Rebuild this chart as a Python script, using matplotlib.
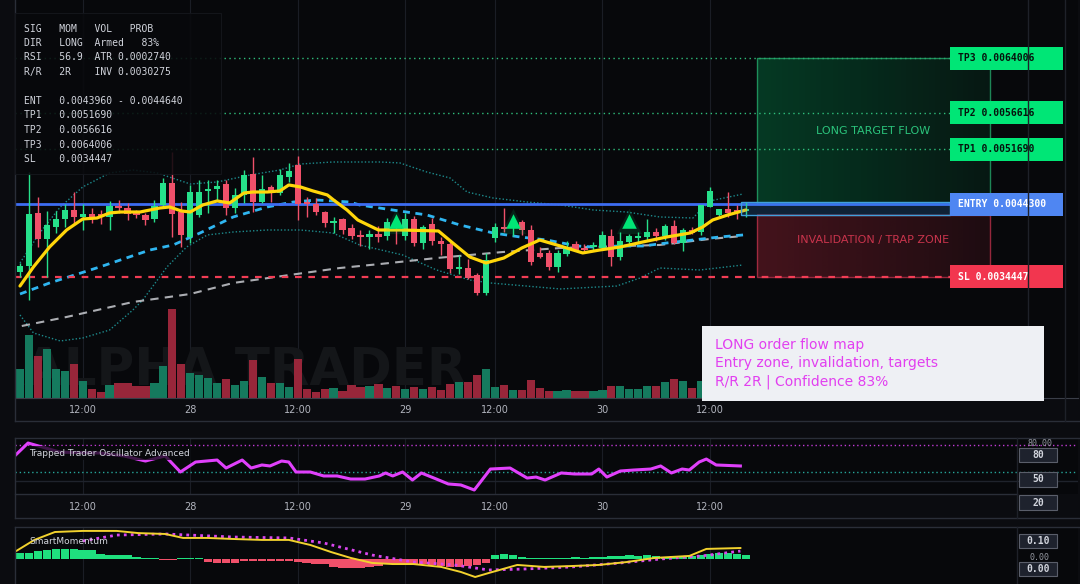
import numpy as np
import matplotlib.pyplot as plt
from matplotlib.patches import Rectangle
from matplotlib.lines import Line2D

# ---------------- data (prices in units of 1e-6) ----------------
E6 = 1e-6
opens = [3512, 3593, 4309, 3958, 4120, 4228, 4349, 4255, 4295, 4295,
         4255, 4390, 4376, 4309, 4282, 4228, 4417, 4714, 4322, 3985,
         4282, 4606, 4633, 4700, 4376, 4552, 4835, 4457, 4660, 4579,
         4795, 4957, 4444, 4430, 4322, 4174, 4228, 4106, 3998, 3985,
         4025, 3998, 4093, 3998, 4228, 3904, 4160, 3931, 3890, 3559,
         3566, 3472, 3229, 3971, 4120, 4106, 4187, 4079, 3769, 3769,
         3580, 3755, 3890, 3823, 3850, 3836, 3998, 3715, 3917, 3971,
         3985, 4052, 3998, 4133, 3904, 4079, 4052, 4390, 4282, 4363,
         4349, 4336]
highs = [3634, 4862, 4525, 4336, 4336, 4430, 4592, 4430, 4376, 4349,
         4471, 4484, 4444, 4349, 4309, 4484, 4781, 5132, 4457, 4687,
         4754, 4754, 4754, 4754, 4646, 4889, 5065, 4822, 4687, 4903,
         4984, 5078, 4525, 4511, 4336, 4255, 4241, 4160, 4079, 4079,
         4133, 4241, 4133, 4309, 4268, 4147, 4241, 3985, 3917, 3742,
         3688, 3499, 3769, 4174, 4376, 4187, 4214, 4147, 3850, 3809,
         3809, 3931, 3931, 3890, 3917, 4066, 4093, 4052, 4025, 4052,
         4228, 4106, 4160, 4214, 4106, 4120, 4417, 4660, 4363, 4592,
         4417, 4457]
lows = [3445, 3134, 3850, 3445, 4039, 4120, 4174, 4079, 4174, 4160,
        4079, 4309, 4214, 4241, 4147, 4187, 4390, 3985, 3850, 3904,
        4255, 4309, 4484, 4282, 4309, 4444, 4322, 4444, 4457, 4552,
        4727, 4214, 4255, 4282, 4120, 4039, 4025, 3958, 3863, 3823,
        3917, 3944, 3890, 3944, 3863, 3823, 3877, 3742, 3499, 3485,
        3418, 3202, 3202, 3917, 4052, 3998, 4012, 3607, 3701, 3539,
        3512, 3728, 3796, 3769, 3809, 3809, 3593, 3674, 3863, 3917,
        3944, 3931, 3944, 3890, 3796, 4025, 4012, 4390, 4268, 4255,
        4228, 4255]
closes = [3593, 4295, 3958, 4147, 4228, 4349, 4255, 4295, 4255, 4268,
          4403, 4376, 4295, 4282, 4214, 4403, 4714, 4295, 4012, 4592,
          4592, 4633, 4673, 4376, 4552, 4822, 4457, 4633, 4579, 4822,
          4876, 4430, 4430, 4322, 4174, 4201, 4079, 3998, 3991, 4025,
          3985, 4187, 4066, 4228, 3904, 4120, 3931, 3890, 3553, 3566,
          3431, 3229, 3674, 4120, 4099, 4133, 4079, 3647, 3715, 3580,
          3769, 3850, 3809, 3809, 3870, 4012, 3715, 3931, 3998, 3998,
          4052, 3998, 4133, 3904, 4079, 4039, 4417, 4606, 4363, 4309,
          4322, 4349]
volume = [88, 187, 124, 147, 88, 81, 102, 51, 27, 19,
          40, 46, 46, 35, 35, 46, 97, 265, 100, 75,
          70, 61, 44, 58, 40, 51, 113, 64, 46, 46,
          32, 117, 27, 19, 27, 29, 22, 40, 32, 37,
          43, 31, 37, 27, 33, 27, 33, 23, 43, 47,
          47, 69, 87, 33, 39, 23, 25, 53, 31, 21,
          21, 23, 20, 20, 20, 25, 37, 35, 27, 27,
          37, 35, 47, 57, 52, 29, 51, 60, 45, 40,
          35, 30]

ema_x = [0, 1.5, 3.3, 5.2, 7, 8.6, 10, 11.2, 13.4, 15.6, 16.7, 18, 19, 20.4, 22, 23.4,
         25, 26, 27.6, 29, 30, 31.3, 32.7, 34.3, 35, 36.5, 37.7, 40, 42.4, 46.7, 48.3,
         50.2, 52, 54, 56, 58, 60.3, 62.8, 64.7, 67, 69.5, 72.2, 74.8, 76.2, 77.3, 79, 81]
ema_v = [3323, 3580, 3850, 4079, 4228, 4241, 4309, 4322, 4322, 4376, 4390, 4336, 4322, 4417,
         4471, 4444, 4579, 4592, 4592, 4606, 4687, 4660, 4606, 4552, 4484, 4349, 4214, 4079,
         4079, 4066, 3904, 3715, 3634, 3701, 3836, 3944, 3863, 3769, 3809, 3850, 3917, 3985,
         4039, 4120, 4214, 4282, 4349]
ma_x = [0, 3.3, 8.9, 14.5, 17.1, 20.1, 23.8, 27.6, 30.5, 33.1, 36.8, 37.9, 41.6, 45.4,
        49.1, 52.8, 55.8, 58.8, 62.2, 64, 67, 69.5, 72.2, 75.1, 78.1, 80.7]
ma_v = [3215, 3364, 3580, 3809, 3877, 4039, 4255, 4390, 4457, 4484, 4457, 4417, 4349, 4282,
        4147, 4039, 3985, 3944, 3863, 3850, 3863, 3863, 3904, 3944, 3985, 4012]
lma_x = [0.2, 5.2, 12.6, 19, 23.8, 30.1, 35.7, 40.2, 46.5, 53.9, 60.3, 71.4, 77, 80.7]
lma_v = [2783, 2905, 3107, 3215, 3364, 3472, 3566, 3620, 3701, 3782, 3836, 3877, 3958, 3998]
bbu_x = [0, 2.2, 4.5, 7, 10, 12.6, 15.3, 19, 22, 25.7, 29, 31.3, 34.9, 40.2, 42.4, 45.4,
         48, 49.9, 52.8, 56.6, 60.3, 64, 67.7, 71.4, 75.1, 77, 80.7]
bbu_v = [3634, 4039, 4390, 4660, 4849, 4889, 4849, 4700, 4727, 4822, 4889, 4970, 4997, 4997,
         4984, 4862, 4781, 4592, 4511, 4457, 4417, 4349, 4322, 4255, 4241, 4471, 4565]
bbl_x = [0, 1.5, 4.5, 7, 10, 12.6, 13.7, 16.4, 18.6, 20.9, 23.8, 27.6, 31.3, 34.9, 37.9,
         42.7, 46.5, 50.2, 52.5, 60.3, 66.6, 69.2, 71.4, 75.9, 80.7]
bbl_v = [2932, 2689, 2581, 2621, 2729, 2999, 3134, 3580, 3850, 4012, 4052, 4079, 4079, 4039,
         3877, 3742, 3539, 3404, 3364, 3283, 3323, 3431, 3566, 3539, 3607]
signal_x = [42, 55, 68]
signal_v = [4201, 4201, 4201]

TP3, TP2, TP1 = 0.0064006, 0.0056616, 0.0051690
ENTRY, SL = 0.0044300, 0.0034447
ENTRY_BOX = (0.004282, 0.004457)

tick_idx = [7, 19, 31, 43, 53, 65, 77]
tick_lbl = ['12:00', '28', '12:00', '29', '12:00', '30', '12:00']

osc_x = [-0.6, 0.9, 4.5, 8.9, 11.6, 14.0, 16.2, 17.9, 19.6, 22.0, 23.0, 24.8, 25.8, 27.0,
         27.9, 29.2, 30.0, 30.8, 32.4, 33.9, 35.4, 36.9, 38.5, 40.1, 40.8, 41.6, 42.7, 43.8,
         44.8, 46.2, 47.8, 49.2, 50.7, 52.5, 54.7, 56.6, 57.6, 58.6, 60.4, 61.9, 63.8, 64.6,
         65.5, 67.0, 68.5, 70.4, 71.5, 72.7, 73.9, 74.7, 75.8, 76.6, 77.7, 80.4]
osc_v = [67.8, 82.2, 72.0, 71.1, 67.8, 62.2, 67.8, 50.0, 61.1, 63.3, 54.4, 63.3, 54.4, 57.8,
         56.7, 62.2, 61.1, 50.0, 50.0, 45.6, 45.6, 42.2, 42.2, 45.6, 48.9, 45.6, 50.0, 41.1,
         48.9, 43.3, 36.7, 35.6, 30.0, 53.3, 54.4, 43.3, 44.4, 41.1, 48.9, 47.8, 47.8, 53.3,
         44.4, 51.1, 52.2, 53.3, 56.7, 48.9, 53.3, 52.2, 61.1, 64.4, 57.8, 56.7]

mom_hist = [0.035, 0.035, 0.045, 0.05, 0.055, 0.055, 0.055, 0.05, 0.05, 0.03,
            0.025, 0.02, 0.02, 0.01, 0.005, 0.003, -0.003, -0.003, 0.003, 0.003,
            0.003, -0.015, -0.02, -0.02, -0.02, -0.01, -0.01, -0.01, -0.01, -0.01,
            -0.012, -0.015, -0.02, -0.025, -0.03, -0.045, -0.05, -0.05, -0.05, -0.045,
            -0.04, -0.025, -0.03, -0.03, -0.028, -0.03, -0.035, -0.04, -0.042, -0.045,
            -0.04, -0.035, -0.02, 0.025, 0.03, 0.025, 0.01, 0.008, 0.006, 0.005,
            0.005, 0.008, 0.01, 0.008, 0.01, 0.012, 0.015, 0.018, 0.02, 0.018,
            0.02, 0.015, 0.012, 0.015, 0.018, 0.015, 0.02, 0.03, 0.035, 0.035,
            0.03, 0.025]
mom_x = [-0.6, 1.6, 3.9, 7.0, 10.8, 13.2, 16.2, 18.2, 20.9, 23.9, 27.0, 30.0, 32.4, 34.7,
         36.9, 39.3, 41.6, 43.9, 47.0, 49.2, 50.8, 52.3, 55.5, 58.5, 61.6, 64.6, 67.7, 70.8,
         74.7, 76.6, 80.4]
mom_v = [0.039, 0.106, 0.150, 0.156, 0.156, 0.144, 0.139, 0.117, 0.117, 0.111, 0.106, 0.106,
         0.078, 0.039, 0.006, -0.022, -0.028, -0.028, -0.044, -0.072, -0.100, -0.078, -0.033,
         -0.044, -0.039, -0.033, -0.017, 0.006, 0.017, 0.056, 0.061]
mom_sig_x = [7.0, 10.8, 16.2, 23.9, 30.0, 33.9, 39.3, 43.9, 48.5, 52.3, 56.1, 61.6, 67.0,
             71.5, 76.1, 80.4]
mom_sig_v = [0.10, 0.133, 0.139, 0.122, 0.117, 0.089, 0.022, -0.017, -0.033, -0.061, -0.056,
             -0.044, -0.022, 0.0, 0.017, 0.044]

# ---------------- style / layout ----------------
W, H = 1080, 584
BG = '#07080b'
GRID = '#1a1d25'
BORDER = '#2a2e38'
TXT = '#b2b5be'
GREEN = '#26e08a'
RED = '#f0506a'
MONO = 'DejaVu Sans Mono'

fig = plt.figure(figsize=(W / 100, H / 100), dpi=100)
fig.patch.set_facecolor('#0b0c10')


def px_ax(x0, y0, x1, y1):
    return fig.add_axes([x0 / W, 1 - y1 / H, (x1 - x0) / W, (y1 - y0) / H])


def fig_line(x0, y0, x1, y1, color=BORDER, lw=1, z=4):
    fig.add_artist(Line2D([x0 / W, x1 / W], [1 - y0 / H, 1 - y1 / H], color=color, lw=lw,
                          transform=fig.transFigure, zorder=z))


def fig_rect(x0, y0, x1, y1, **kw):
    fig.add_artist(Rectangle((x0 / W, 1 - y1 / H), (x1 - x0) / W, (y1 - y0) / H,
                             transform=fig.transFigure, **kw))


def fig_text(x, y, s, **kw):
    fig.text(x / W, 1 - y / H, s, **kw)


def xi(px):
    # pixel column -> candle index
    return (px - 20) / 8.96


XLIM = (xi(15), xi(1078))
P_LO, P_HI = 0.001811, 0.007184
DP = (P_HI - P_LO) / 398

idx = np.arange(len(opens))
o = np.array(opens) * E6
h = np.array(highs) * E6
l = np.array(lows) * E6
c = np.array(closes) * E6
up = c >= o
col = np.where(up, GREEN, RED)
vcol = np.where(up, '#157a5e', '#98263a')


def clean(a):
    a.set_facecolor(BG)
    a.set_xlim(XLIM)
    a.set_yticks([])
    for s in a.spines.values():
        s.set_visible(False)


# ---------------- main panel: volume underneath ----------------
vax = px_ax(15, 0, 1078, 398)
clean(vax)
vax.set_xticks([])
vax.set_ylim(0, 1188)
for t in tick_idx:
    vax.axvline(t, color=GRID, lw=0.8, zorder=0)
vax.text(0.217, 0.004, 'ALPHA TRADER', transform=vax.transAxes, ha='center', va='bottom',
         fontsize=37, fontweight='bold', color='#141619', zorder=0)
vax.bar(idx, volume, width=0.92, color=vcol, zorder=2)

ax = px_ax(15, 0, 1078, 398)
clean(ax)
ax.patch.set_visible(False)
ax.set_ylim(P_LO, P_HI)
ax.spines['bottom'].set_visible(True)
ax.spines['bottom'].set_color('#3a3e48')
ax.set_xticks(tick_idx, tick_lbl)
ax.tick_params(axis='x', length=0, pad=5, labelsize=7, labelcolor=TXT)

# bands and averages
ax.plot(bbu_x, np.array(bbu_v) * E6, color='#1d8a8c', lw=1, ls=(0, (1, 1.5)), zorder=2)
ax.plot(bbl_x, np.array(bbl_v) * E6, color='#1d8a8c', lw=1, ls=(0, (1, 1.5)), zorder=2)
ax.plot(lma_x, np.array(lma_v) * E6, color='#c9cbd1', lw=1.5, ls=(0, (4, 3)), zorder=3, alpha=0.85)
ax.plot(ma_x, np.array(ma_v) * E6, color='#2fb5f0', lw=2, ls=(0, (2.5, 2)), zorder=3)

# levels
LX0, LX1 = xi(950), xi(1063)
ZX0, ZX1 = xi(757), xi(990)
ax.hlines([TP1, TP2, TP3], XLIM[0], LX0, colors='#2fbf7c', lw=1, linestyles=(0, (1, 2.5)), zorder=2)
ax.hlines(ENTRY, XLIM[0], LX0, colors='#3d6df2', lw=2, zorder=3)
ax.hlines(SL, XLIM[0], LX0, colors='#f23d55', lw=1.6, linestyles=(0, (3, 3)), zorder=3)

# candles
ax.vlines(idx, l, h, colors=col, lw=1, zorder=4)
ax.bar(idx, np.maximum(np.abs(c - o), 1.6 * DP), bottom=np.minimum(o, c), width=0.7,
       color=col, zorder=4)
ax.plot(ema_x, np.array(ema_v) * E6, color='#ffd60a', lw=2.3, zorder=5, solid_capstyle='round')

# signal triangles
sx, sy = signal_x, np.array(signal_v) * E6
ax.scatter(sx, sy, marker='^', s=330, color='#00e676', alpha=0.12, lw=0, zorder=6)
ax.scatter(sx, sy, marker='^', s=110, color='#00e676', lw=0, zorder=6)

# target / invalidation zones
grad = np.zeros((2, 100, 4))
grad[..., :3] = (0.0, 0.85, 0.45)
grad[..., 3] = np.linspace(0.24, 0.08, 100)
ax.imshow(grad, extent=[ZX0, ZX1, ENTRY, TP3], aspect='auto', zorder=1, interpolation='bilinear')
ax.add_patch(Rectangle((ZX0, ENTRY), ZX1 - ZX0, TP3 - ENTRY, fill=False,
                       ec='#25a56a', lw=1, alpha=0.8, zorder=2))
rgrad = np.zeros((2, 100, 4))
rgrad[..., :3] = (0.95, 0.2, 0.3)
rgrad[..., 3] = np.linspace(0.26, 0.10, 100)
ax.imshow(rgrad, extent=[ZX0, ZX1, SL, ENTRY_BOX[0]], aspect='auto', zorder=1,
          interpolation='bilinear')
ax.add_patch(Rectangle((ZX0, SL), ZX1 - ZX0, ENTRY_BOX[0] - SL, fill=False,
                       ec='#b83049', lw=1, alpha=0.8, zorder=2))
ax.set_xlim(XLIM)
ax.set_ylim(P_LO, P_HI)
ax.text((ZX0 + ZX1) / 2, (ENTRY + TP3) / 2, 'LONG TARGET FLOW', ha='center', va='center',
        fontsize=8, color='#2bc47c', zorder=6)
ax.text((ZX0 + ZX1) / 2, (ENTRY + SL) / 2, 'INVALIDATION / TRAP ZONE', ha='center',
        va='center', fontsize=8, color='#c9344c', zorder=6)

# entry box
ax.add_patch(Rectangle((xi(740.5), ENTRY_BOX[0]), LX0 - xi(740.5), ENTRY_BOX[1] - ENTRY_BOX[0],
                       fc=(0.2, 0.55, 0.9, 0.2), ec='#3fa0dc', lw=1, zorder=6))

# right price labels
labels = [('TP3', TP3, '#00e676', '#06140d'), ('TP2', TP2, '#00e676', '#06140d'),
          ('TP1', TP1, '#00e676', '#06140d'), ('ENTRY', ENTRY, '#4f86f2', 'white'),
          ('SL', SL, '#f2364f', 'white')]
for name, lv, fc, tc in labels:
    hh = 23 * DP
    ax.add_patch(Rectangle((LX0, lv - hh / 2), LX1 - LX0, hh, fc=fc, ec='none', zorder=7,
                           clip_on=False))
    ax.text(LX0 + 8 / 8.96, lv, f'{name} {lv:.7f}', ha='left', va='center', family=MONO,
            fontsize=7, fontweight='bold', color=tc, zorder=8)

# ---------------- oscillator panel ----------------
ax2 = px_ax(15, 438, 1078, 494)
clean(ax2)
ax2.set_ylim(25.56, 87.78)
for t in tick_idx:
    ax2.axvline(t, color=GRID, lw=0.8, zorder=0)
ax2.axhline(80, color='#c03bd3', lw=1, ls=(0, (1, 2)))
ax2.axhline(50, color='#26a69a', lw=1, ls=(0, (1, 2)))
ax2.axhline(40, color='#1f232c', lw=1)
ax2.plot(osc_x, osc_v, color='#e040fb', lw=2.2, zorder=3)
ax2.set_xticks(tick_idx, tick_lbl)
ax2.tick_params(axis='x', length=0, pad=6, labelsize=7, labelcolor=TXT)
ax2.text(xi(29), 71.1, 'Trapped Trader Oscillator Advanced', ha='left', va='center',
         fontsize=6.5, color='#d1d4dc', zorder=5,
         bbox=dict(boxstyle='square,pad=0.25', fc=BG, ec='none', alpha=0.75))

# ---------------- momentum panel ----------------
ax3 = px_ax(15, 527, 1078, 584)
clean(ax3)
ax3.set_xticks([])
ax3.set_ylim(-0.1389, 0.1778)
for t in tick_idx:
    ax3.axvline(t, color=GRID, lw=0.8, zorder=0)
hcol = np.where(np.array(mom_hist) >= 0, '#1fe07e', '#f0506a')
ax3.bar(idx, mom_hist, width=0.95, color=hcol, zorder=2)
ax3.plot(mom_sig_x, mom_sig_v, color='#d946ef', lw=2, ls=(0, (1, 1.5)), zorder=3)
ax3.plot(mom_x, mom_v, color='#f2d22e', lw=1.4, zorder=4)
ax3.text(xi(29), 0.1, 'SmartMomentum', ha='left', va='center', fontsize=6.5,
         color='#d1d4dc', zorder=5)

# ---------------- frames ----------------
fig_line(15, 0, 15, 421)
fig_line(15, 421, 1080, 421)
fig_line(1028, 0, 1028, 398, color='#1e2129')
fig_line(1065, 0, 1065, 421, color='#1e2129')
fig_line(15, 438, 1080, 438)
fig_line(15, 518, 1080, 518)
fig_line(15, 438, 15, 518)
fig_line(15, 494, 1017, 494, color='#2a2e38')
fig_line(1017, 438, 1017, 518, color='#1e2129')
fig_line(15, 527, 1080, 527)
fig_line(15, 527, 15, 584)
fig_line(1017, 527, 1017, 584, color='#1e2129')

# right scale boxes on lower panels
fig_text(1040, 443, '80.00', ha='center', va='center', family=MONO, fontsize=6, color='#9598a1', zorder=4)
fig_text(1040, 557, '0.00', ha='center', va='center', family=MONO, fontsize=6, color='#9598a1', zorder=4)
for txt, y0, y1 in [('80', 448, 462), ('50', 472, 487), ('20', 495, 510),
                    ('0.10', 534, 548), ('0.00', 562, 576)]:
    fig_rect(1019, y0, 1057, y1, fc='#1e222d', ec='#5a5e6a', lw=0.8, zorder=5)
    fig_text(1038, (y0 + y1) / 2, txt, ha='center', va='center', family=MONO,
             fontsize=7, fontweight='bold', color='#d1d4dc', zorder=6)

# ---------------- info table ----------------
fig_rect(15, 13, 221, 174, fc='#08090c', ec='#15171d', lw=0.8, alpha=0.88, zorder=5)
rows = ['SIG   MOM   VOL   PROB',
        'DIR   LONG  Armed   83%',
        'RSI   56.9  ATR 0.0002740',
        'R/R   2R    INV 0.0030275',
        '',
        'ENT   0.0043960 - 0.0044640',
        'TP1   0.0051690',
        'TP2   0.0056616',
        'TP3   0.0064006',
        'SL    0.0034447']
for k, r in enumerate(rows):
    fig_text(24, 28.5 + k * 14.5, r, ha='left', va='center', family=MONO, fontsize=7,
             color='#d1d4dc', zorder=6)

# ---------------- note box ----------------
fig_rect(702, 326, 1044, 401, fc='#eef0f4', ec='none', zorder=5)
for k, r in enumerate(['LONG order flow map', 'Entry zone, invalidation, targets',
                       'R/R 2R | Confidence 83%']):
    fig_text(715, 345 + k * 18.5, r, ha='left', va='center', fontsize=10, color='#e23ff0', zorder=6)

fig.savefig('out.png', dpi=100, facecolor=fig.get_facecolor())
